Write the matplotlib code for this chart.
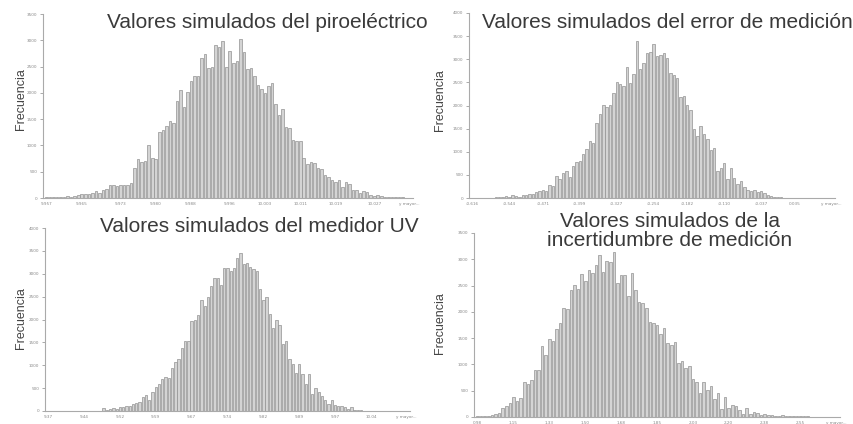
import numpy as np
import matplotlib.pyplot as plt

# frecuencias por clase (histogramas de la simulacion)
piro_counts = [10, 15, 10, 20, 15, 25, 30, 20, 40, 60, 80, 75, 80, 100, 130, 90, 160, 165, 240, 250,
               230, 240, 250, 240, 290, 580, 740, 680, 700, 1010, 760, 750, 1260, 1290, 1370, 1470, 1420, 1850, 2060, 1730,
               2010, 2220, 2330, 2320, 2670, 2740, 2470, 2490, 2910, 2880, 2980, 2490, 2790, 2570, 2610, 3020, 2780, 2450, 2470, 2320,
               2150, 2070, 1990, 2130, 2190, 1780, 1580, 1690, 1350, 1340, 1110, 1090, 1080, 760, 640, 680, 670, 570, 550, 430,
               400, 350, 300, 340, 200, 300, 270, 150, 150, 100, 140, 110, 50, 40, 50, 30, 20, 20, 15, 10,
               10, 10, 5, 5]
piro_labels = ["9.957", "9.965", "9.973", "9.980", "9.988", "9.996", "10.003", "10.011", "10.019", "10.027", "y mayor..."]

error_counts = [5, 5, 5, 5, 10, 10, 10, 20, 30, 20, 40, 30, 60, 40, 30, 70, 60, 80, 90, 120,
                150, 170, 160, 280, 270, 480, 420, 540, 580, 460, 700, 770, 800, 950, 1050, 1240, 1200, 1630, 1820, 2010,
                1960, 2020, 2280, 2500, 2460, 2420, 2830, 2480, 2680, 3390, 2780, 2920, 3140, 3150, 3320, 3080, 3090, 3140, 3020, 2700,
                2650, 2600, 2190, 2200, 2020, 1900, 1500, 1350, 1550, 1390, 1280, 1040, 1080, 590, 650, 750, 420, 650, 430, 300,
                370, 240, 170, 160, 170, 120, 160, 110, 70, 40, 30, 20, 15, 10, 10, 10, 10, 5, 5, 5,
                5, 5, 5, 5, 5, 5, 5, 5]
error_labels = ["-0.616", "-0.544", "-0.471", "-0.399", "-0.327", "-0.254", "-0.182", "-0.110", "-0.037", "0.035", "y mayor..."]

uv_counts = [2, 2, 2, 2, 2, 2, 2, 2, 2, 2, 2, 2, 2, 2, 2, 2, 2, 70, 30, 40,
             60, 50, 80, 90, 100, 120, 150, 170, 200, 300, 350, 240, 420, 530, 580, 690, 740, 730, 930, 1070,
             1130, 1370, 1520, 1530, 1970, 1980, 2090, 2430, 2290, 2490, 2740, 2900, 2900, 2760, 3130, 3120, 3060, 3130, 3350, 3450,
             3210, 3230, 3150, 3100, 3050, 2670, 2430, 2490, 2110, 1820, 2000, 1890, 1460, 1520, 1140, 1020, 840, 1030, 810, 600,
             800, 380, 500, 420, 320, 230, 160, 230, 130, 100, 110, 80, 50, 80, 30, 20, 20, 10, 10, 10,
             5, 5, 5, 5, 5, 5, 5, 5, 5, 5, 5]
uv_labels = ["9.37", "9.44", "9.52", "9.59", "9.67", "9.74", "9.82", "9.89", "9.97", "10.04", "y mayor..."]

incert_counts = [20, 15, 10, 20, 30, 60, 80, 170, 200, 260, 380, 300, 360, 660, 620, 700, 900, 890, 1350, 1180,
                 1490, 1450, 1680, 1790, 2070, 2050, 2420, 2510, 2440, 2720, 2580, 2800, 2740, 2890, 3080, 2750, 2970, 2950, 3130, 2550,
                 2710, 2700, 2300, 2740, 2410, 2190, 2170, 2070, 1810, 1780, 1750, 1580, 1700, 1400, 1370, 1420, 1030, 1060, 940, 970,
                 720, 660, 450, 670, 520, 590, 350, 460, 150, 380, 180, 220, 210, 140, 60, 170, 60, 90, 70, 40,
                 50, 30, 40, 20, 10, 30, 20, 15, 10, 10, 10, 10, 10, 5, 5, 5, 5, 5, 5, 5, 5]
incert_labels = ["0.98", "1.15", "1.33", "1.50", "1.68", "1.85", "2.03", "2.20", "2.38", "2.55", "y mayor..."]

W, H = 854, 424
fig = plt.figure(figsize=(W / 100, H / 100), dpi=100)
fig.patch.set_facecolor("white")


def px_axes(left, right, top, bottom):
    return fig.add_axes([left / W, 1 - bottom / H, (right - left) / W, (bottom - top) / H])


def histo(ax, counts, labels, ymax, step=500):
    n = len(counts)
    x = np.arange(n)
    ax.bar(x, counts, width=0.72, color="#d4d4d4", edgecolor="#929292", linewidth=0.5)
    ax.set_xlim(-1, n)
    ax.set_ylim(0, ymax)
    ax.set_yticks(np.arange(0, ymax + 1, step))
    ax.set_yticklabels([str(v) for v in np.arange(0, ymax + 1, step)])
    ax.set_xticks(np.round(np.linspace(0, n - 1, len(labels))))
    ax.set_xticklabels(labels)
    ax.tick_params(axis="y", labelsize=3, colors="#888888", length=2, width=0.5, pad=2)
    ax.tick_params(axis="x", labelsize=3, colors="#888888", length=0, pad=3)
    for s in ["top", "right"]:
        ax.spines[s].set_visible(False)
    for s in ["left", "bottom"]:
        ax.spines[s].set_color("#aaaaaa")
        ax.spines[s].set_linewidth(0.8)
    ax.set_facecolor("white")


ax1 = px_axes(43, 413, 14, 198)
histo(ax1, piro_counts, piro_labels, 3500)
ax2 = px_axes(469, 835, 13, 198)
histo(ax2, error_counts, error_labels, 4000)
ax3 = px_axes(45, 410, 228, 411)
histo(ax3, uv_counts, uv_labels, 4000)
ax4 = px_axes(474, 840, 233, 417)
histo(ax4, incert_counts, incert_labels, 3500)

title_kw = dict(fontsize=15, color="#3a3a3a", family=["Liberation Sans", "DejaVu Sans"],
                ha="center", va="center")
fig.text(267 / W, 1 - 22 / H, "Valores simulados del piroeléctrico", **title_kw)
fig.text(667 / W, 1 - 22 / H, "Valores simulados del error de medición", **title_kw)
fig.text(259 / W, 1 - 227 / H, "Valores simulados del medidor UV", **title_kw)
fig.text(670 / W, 1 - 231 / H, "Valores simulados de la\nincertidumbre de medición",
         linespacing=1.0, **title_kw)

ylab_kw = dict(fontsize=9, color="#444444", rotation=90, ha="center", va="center",
               family=["Liberation Sans Narrow", "Liberation Sans", "DejaVu Sans"])
fig.text(21 / W, 1 - 99 / H, "Frecuencia", **ylab_kw)
fig.text(440 / W, 1 - 100 / H, "Frecuencia", **ylab_kw)
fig.text(21 / W, 1 - 318 / H, "Frecuencia", **ylab_kw)
fig.text(440 / W, 1 - 323 / H, "Frecuencia", **ylab_kw)

fig.savefig("out.png", dpi=100, facecolor="white")
